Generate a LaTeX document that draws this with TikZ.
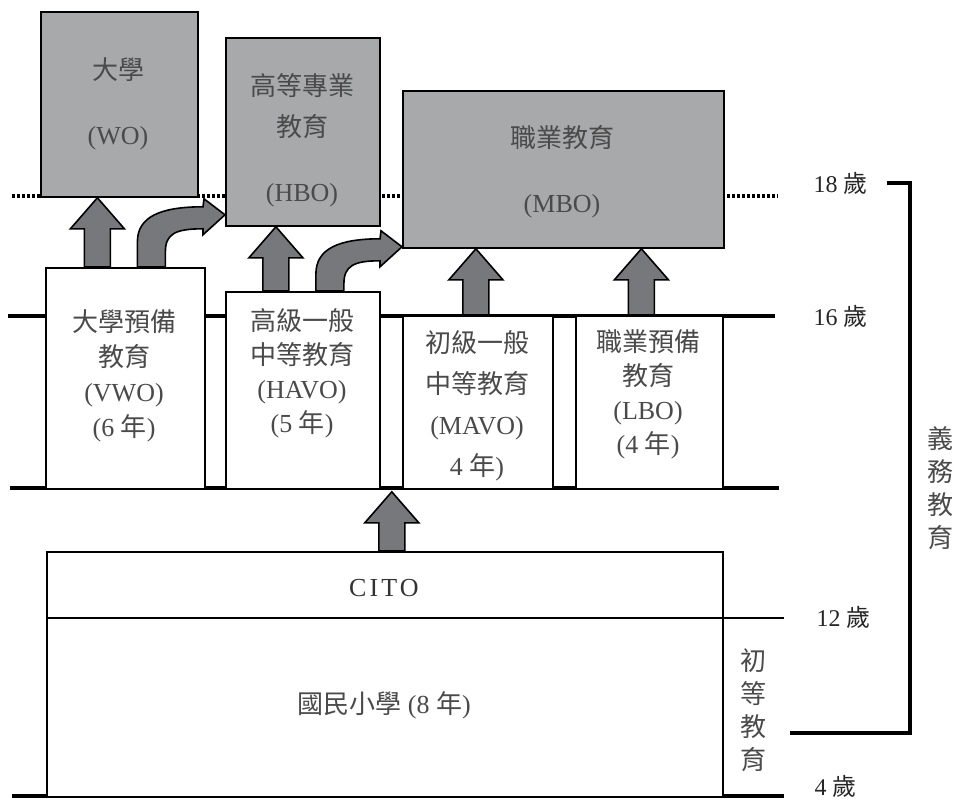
\documentclass[tikz,border=0pt]{standalone}
\usepackage{fontspec}
\setmainfont{Liberation Serif}
\newfontfamily\cjk{Noto Sans CJK TC}
\usetikzlibrary{calc}

\definecolor{boxgray}{HTML}{A8A9AB}
\definecolor{arrowgray}{HTML}{77787B}
\definecolor{textgray}{HTML}{4A4A4A}

\newcommand\zh[1]{{\cjk #1}}

% straight block arrow: #1 foot of the shaft, #2 node edge for the tip
\newcommand\blockup[2]{%
  \filldraw[blockarrow] let \p1=#1, \p2=#2 in
    (\x1-13pt,\y1) -- (\x1-13pt,\y2-31pt) -- (\x1-27pt,\y2-31pt) -- (\x1,\y2)
    -- (\x1+27pt,\y2-31pt) -- (\x1+13pt,\y2-31pt) -- (\x1+13pt,\y1) -- cycle;}

% bent block arrow: #1 foot of the shaft, #2 tip
\newcommand\bendarrow[2]{%
  \filldraw[blockarrow] let \p1=#1, \p2=#2 in
    (\x1-14pt,\y1) -- (\x1-14pt,\y2-27pt)
    .. controls (\x1-14pt,\y2-2pt) and (\x1+9pt,\y2+8pt) .. (\x2-22pt,\y2+8pt)
    -- (\x2-21pt,\y2+16pt) -- (\x2,\y2) -- (\x2-22pt,\y2-20pt) -- (\x2-22pt,\y2-14pt)
    .. controls (\x1+24pt,\y2-14pt) and (\x1+14pt,\y2-19pt) .. (\x1+14pt,\y2-37pt)
    -- (\x1+14pt,\y1) -- cycle;}

\begin{document}
\begin{tikzpicture}[x=1pt,y=-1pt,
    gbox/.style={draw, line width=1.8pt, fill=boxgray, anchor=north west, inner sep=0pt},
    wbox/.style={draw, line width=1.8pt, fill=white, anchor=north west, inner sep=0pt},
    boxtext/.style={align=center, text=textgray},
    age/.style={anchor=west, text=black!85, font=\fontsize{24}{28}\selectfont},
    vtext/.style={align=center, text=textgray, font=\cjk\fontsize{26}{33}\selectfont},
    blockarrow/.style={fill=arrowgray, draw=black, line width=1.6pt, line join=miter},
    rule/.style={line width=3.4pt}]
  \useasboundingbox (0,0) rectangle (957,802);

  % age lines
  \draw[line width=3.2pt, dash pattern=on 2.6pt off 2.4pt] (12,196) -- (778,196);
  \draw[rule] (8,316) -- (775,316);
  \draw[rule] (10,488) -- (779,488);
  \draw[rule] (12,796) -- (784,796);
  \draw[line width=1.6pt] (722,618) -- (784,618);

  % upper level
  \node[gbox, minimum width=157, minimum height=185] (wo) at (40,11) {};
  \node[gbox, minimum width=154, minimum height=188] (hbo) at (225,37) {};
  \node[gbox, minimum width=321, minimum height=157] (mbo) at (402,90) {};
  \node[boxtext, font=\fontsize{26}{65}\selectfont] at (118,104) {\zh{大學}\\(WO)};
  \node[boxtext, font=\fontsize{26}{41}\selectfont] at (302,140) {\zh{高等專業}\\\zh{教育}\\[24pt](HBO)};
  \node[boxtext, font=\fontsize{26}{65}\selectfont] at (562,172) {\zh{職業教育}\\(MBO)};

  % secondary level
  \node[wbox, minimum width=159, minimum height=221] (vwo) at (45,267) {};
  \node[wbox, minimum width=154, minimum height=197] (havo) at (225,291) {};
  \node[wbox, minimum width=150, minimum height=173] (mavo) at (402,315) {};
  \node[wbox, minimum width=147, minimum height=173] (lbo) at (575,315) {};
  \node[boxtext, font=\fontsize{26}{35}\selectfont] at (124,376) {\zh{大學預備}\\\zh{教育}\\(VWO)\\(6 \zh{年})};
  \node[boxtext, font=\fontsize{26}{34}\selectfont] at (302,373) {\zh{高級一般}\\\zh{中等教育}\\(HAVO)\\(5 \zh{年})};
  \node[boxtext, font=\fontsize{26}{41}\selectfont] at (477,406) {\zh{初級一般}\\\zh{中等教育}\\(MAVO)\\4 \zh{年})};
  \node[boxtext, font=\fontsize{26}{34}\selectfont] at (648,394) {\zh{職業預備}\\\zh{教育}\\(LBO)\\(4 \zh{年})};

  % primary level
  \node[draw, line width=1.6pt, fill=white, anchor=north west, inner sep=0pt,
    minimum width=676, minimum height=245] (school) at (46,551) {};
  \draw[line width=1.6pt] (school.west |- 0,618) -- (school.east |- 0,618);
  \node[boxtext, text=black!80, font=\fontsize{26}{30}\selectfont\addfontfeature{LetterSpace=12}] (cito) at (384,588) {CITO};
  \node[boxtext, font=\fontsize{26}{30}\selectfont] (lager) at (384,705) {\zh{國民小學} (8 \zh{年})};
  \node[vtext] (initial) at (753,710) {初\\等\\教\\育};

  % arrows
  \blockup{([xshift=-28pt]vwo.north)}{(wo.south)}
  \blockup{([xshift=-27pt]havo.north)}{(hbo.south)}
  \blockup{([xshift=-2pt]mavo.north)}{(mbo.south)}
  \blockup{([xshift=-8pt]lbo.north)}{(mbo.south)}
  \blockup{([xshift=7pt]school.north)}{([yshift=-2pt]mavo.south)}
  \bendarrow{([xshift=26pt]vwo.north)}{([yshift=12pt]hbo.south west)}
  \bendarrow{([xshift=27pt]havo.north)}{([yshift=2pt]mbo.south west)}

  % ages and compulsory bracket
  \node[age] (a18) at (810,183) {18 \zh{歲}};
  \node[age] (a16) at (810,316) {16 \zh{歲}};
  \node[age] (a12) at (813,617) {12 \zh{歲}};
  \node[age] (a4) at (811,786) {4 \zh{歲}};
  \draw[rule] (887,183) -| (910,733) -- (790,733);
  \node[vtext] (compulsory) at (940,488) {義\\務\\教\\育};
\end{tikzpicture}
\end{document}
